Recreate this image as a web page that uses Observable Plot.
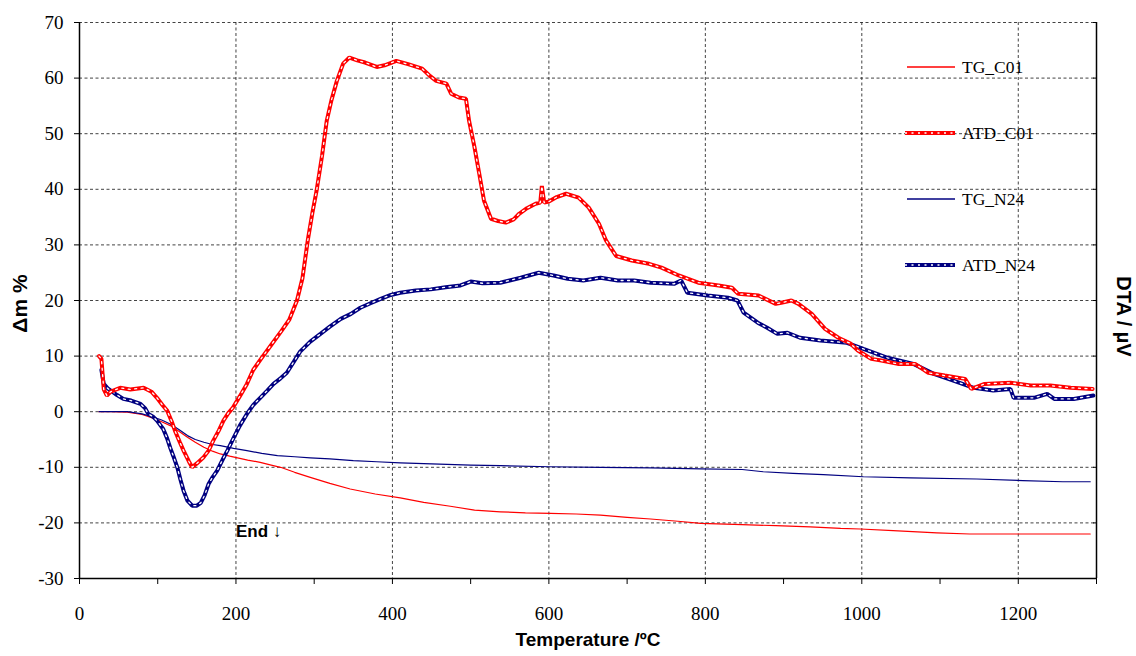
<!DOCTYPE html>
<html>
<head>
<meta charset="utf-8">
<script src="https://cdn.jsdelivr.net/npm/d3@7"></script>
<script src="https://cdn.jsdelivr.net/npm/@observablehq/plot@0.6"></script>
<style>
  html, body { margin: 0; padding: 0; background: #fff; }
  #wrap { position: relative; width: 1136px; height: 656px; }
  #chart svg text { font-family: "Liberation Serif", "Times New Roman", serif !important; fill: #000; }
  #chart svg g[aria-label="text"] text { font-family: "Liberation Sans", Arial, sans-serif !important; font-weight: bold; }
  #legend { position: absolute; left: 905px; top: 34px; font-family: "Liberation Serif", serif; font-size: 17.5px; color: #000; }
  #legend .row { display: flex; align-items: center; height: 66px; }
  #legend svg { margin-right: 5px; }
</style>
</head>
<body>
<div id="wrap"><div id="chart"></div><div id="legend"></div></div>
<script>
// ---- data (temperature °C, value) ----
const tgC01 = [[25,0],[40,0],[61,-0.1],[80,-0.5],[95,-1.2],[105,-1.8],[116,-2.5],[127,-3.5],[138,-4.6],[148,-5.5],[159,-6.4],[170,-7.1],[180,-7.6],[192,-8],[202,-8.3],[215,-8.7],[231,-9.1],[245,-9.6],[257,-10],[275,-10.9],[295,-11.8],[320,-12.9],[346,-13.9],[378,-14.8],[410,-15.5],[440,-16.3],[474,-17],[505,-17.7],[538,-18],[570,-18.2],[602,-18.3],[635,-18.4],[666,-18.6],[700,-19],[730,-19.3],[765,-19.7],[794,-20.1],[847,-20.3],[890,-20.5],[934,-20.7],[973,-21],[998,-21.1],[1040,-21.4],[1096,-21.8],[1138,-22],[1292,-22]];

const atdC01 = [[25,10],[28,9.5],[31,4],[35,2.9],[40,3.6],[52,4.3],[65,4.0],[82,4.3],[92,3.6],[99,2.5],[106,1.2],[112,0.2],[118,-1.8],[122,-3.4],[128,-5.4],[133,-7],[140,-9.0],[144,-10],[150,-9.3],[158,-8.3],[165,-7.0],[171,-5.2],[178,-3.4],[184,-1.6],[190,-0.3],[196,0.7],[205,2.8],[214,5],[222,7.5],[232,9.5],[245,12],[258,14.5],[268,16.5],[278,20],[285,24],[292,31],[298,36],[303,39.7],[310,46],[316,52.3],[322,56],[329,59.5],[337,62.6],[345,63.7],[355,63.2],[365,62.8],[380,62],[390,62.3],[405,63.1],[420,62.5],[438,61.7],[447,60.5],[456,59.5],[469,59],[475,57.2],[485,56.5],[494,56.3],[498,52.3],[505,47.5],[511,42.8],[517,38],[526,34.7],[535,34.3],[545,34],[555,34.6],[562,35.6],[572,36.6],[583,37.4],[589,37.6],[591,40.6],[594,37.6],[600,37.8],[610,38.6],[622,39.2],[638,38.5],[651,36.7],[664,33.8],[673,30.8],[686,28],[706,27.2],[728,26.6],[744,25.9],[766,24.5],[791,23.2],[817,22.7],[834,22.3],[842,21.2],[868,20.9],[890,19.4],[897,19.6],[910,20],[919,19.4],[936,17.6],[953,14.9],[970,13.3],[985,12.3],[995,11],[1012,9.5],[1025,9.2],[1046,8.6],[1068,8.6],[1085,7],[1106,6.5],[1132,5.9],[1140,4.1],[1157,5],[1190,5.2],[1216,4.7],[1241,4.7],[1267,4.3],[1295,4.1]];

const tgN24 = [[25,0],[40,0],[61,0],[80,-0.4],[95,-1],[105,-1.5],[116,-2.2],[127,-3.2],[138,-4.3],[148,-5],[159,-5.5],[170,-5.9],[180,-6.1],[197,-6.6],[214,-7],[233,-7.5],[253,-7.9],[275,-8.1],[295,-8.3],[320,-8.5],[350,-8.8],[380,-9],[410,-9.2],[450,-9.4],[500,-9.6],[538,-9.7],[600,-9.9],[666,-10],[730,-10.1],[794,-10.3],[847,-10.4],[874,-10.8],[912,-11.1],[951,-11.3],[1002,-11.7],[1062,-11.9],[1147,-12.1],[1206,-12.4],[1257,-12.6],[1292,-12.6]];

const atdN24 = [[28,7.5],[31,5],[36,4.2],[40,3.8],[48,3.0],[56,2.3],[66,2.0],[78,1.4],[84,0.6],[88,-0.4],[94,-0.9],[99,-1.6],[107,-3.1],[112,-4.8],[116,-6.5],[120,-8],[125,-10],[129,-12.2],[133,-14.2],[138,-16],[144,-16.9],[150,-16.9],[155,-16.4],[160,-15],[165,-13],[170,-11.8],[176,-10.6],[183,-8.6],[189,-7],[197,-4.7],[205,-2.5],[214,-0.4],[222,1.2],[231,2.5],[240,3.8],[248,5],[257,6],[265,7],[274,9],[282,10.8],[295,12.6],[308,14],[320,15.3],[334,16.7],[347,17.6],[359,18.7],[372,19.5],[385,20.3],[398,21],[410,21.4],[430,21.8],[449,22],[468,22.4],[487,22.7],[500,23.4],[515,23.1],[538,23.2],[564,24.1],[587,25],[606,24.5],[624,23.9],[644,23.6],[666,24.1],[688,23.6],[709,23.6],[730,23.2],[760,23],[769,23.6],[777,21.4],[803,20.9],[829,20.5],[841,20],[849,17.8],[867,16],[879,15.1],[892,14],[905,14.2],[921,13.3],[947,12.8],[981,12.4],[1002,11.3],[1033,9.7],[1066,8.6],[1092,6.8],[1117,5.6],[1143,4.3],[1168,3.8],[1190,4.1],[1194,2.5],[1220,2.5],[1237,3.2],[1246,2.3],[1271,2.3],[1296,2.9]];

const yTicks = [-30,-20,-10,0,10,20,30,40,50,60,70];
const xLabelTicks = [0,200,400,600,800,1000,1200];
const xMinorTicks = [0,100,200,300,400,500,600,700,800,900,1000,1100,1200,1300];
const xGrid = [200,400,600,800,1000,1200];
const xDomain = [0,1300];
const yDomain = [-30,70];
const endNote = [{T: 200, v: -21.6, label: "End ↓"}];
const seriesNames = ["TG_C01","ATD_C01","TG_N24","ATD_N24"];
const seriesColors = ["#ff0000","#ff0000","#000080","#000080"];
const seriesKinds = ["tg","atd","tg","atd"];
const xTitle = "Temperature /ºC";
const yTitle = "Δm %";
const y2Title = "DTA / µV";

const RED = seriesColors[0], NAVY = seriesColors[2];
const SERIF = "Liberation Serif, Times New Roman, serif";
const titleFont = {fontFamily: "Liberation Sans, Arial, sans-serif", fontWeight: "bold", fontSize: 19, fill: "#000"};
const grid = {stroke: "#222", strokeOpacity: 0.85, strokeDasharray: "3,2.5", strokeWidth: 1};
const fmt = d => String(d);

function atd(data, color) {
  return [
    Plot.line(data, {stroke: color, strokeWidth: 4, strokeLinejoin: "miter"}),
    Plot.line(data, {stroke: "white", strokeWidth: 1.3, strokeDasharray: "2,4.5"})
  ];
}

const chart = Plot.plot({
  width: 1136,
  height: 656,
  marginLeft: 79,
  marginRight: 40,
  marginTop: 22,
  marginBottom: 78,
  x: {domain: xDomain},
  y: {domain: yDomain},
  style: {fontFamily: SERIF, fontSize: "19px", color: "#000", background: "#fff"},
  marks: [
    Plot.gridY(yTicks, grid),
    Plot.gridX(xGrid, grid),
    Plot.axisY(yTicks, {tickSize: 5, tickPadding: 11, label: null, fontSize: 19, fontFamily: SERIF, tickFormat: fmt, stroke: "#000"}),
    Plot.axisY(yTicks, {anchor: "right", tickSize: 4, dx: -4, text: null, label: null}),
    Plot.axisX(xMinorTicks, {tickSize: 6, text: null, label: null}),
    Plot.axisX(xLabelTicks, {tickSize: 0, tickPadding: 28, label: null, fontSize: 19, fontFamily: SERIF, tickFormat: fmt}),
    Plot.line(tgC01, {stroke: RED, strokeWidth: 1.2}),
    Plot.line(tgN24, {stroke: NAVY, strokeWidth: 1.2}),
    ...atd(atdN24, NAVY),
    ...atd(atdC01, RED),
    Plot.ruleX([xDomain[0]], {stroke: "#000", strokeWidth: 1.5}),
    Plot.ruleX([xDomain[1]], {stroke: "#000", strokeWidth: 1.5}),
    Plot.ruleY([yDomain[0]], {stroke: "#000", strokeWidth: 1.5}),
    Plot.text(endNote, {x: "T", y: "v", text: "label", textAnchor: "start", ...titleFont, fontSize: 17}),
    Plot.text([yTitle], {frameAnchor: "left", textAnchor: "middle", dx: -59, dy: 3, rotate: -90, ...titleFont, fontSize: 21}),
    Plot.text([xTitle], {frameAnchor: "bottom", textAnchor: "middle", dy: 67, ...titleFont}),
    Plot.text([y2Title], {frameAnchor: "right", textAnchor: "middle", dx: 27, dy: 16, rotate: 90, ...titleFont, fontSize: 20})
  ]
});
document.getElementById("chart").appendChild(chart);

// legend (inside plot area, top right)
const legend = document.getElementById("legend");
seriesNames.forEach((name, i) => {
  const row = document.createElement("div");
  row.className = "row";
  const c = seriesColors[i];
  const sample = seriesKinds[i] === "atd"
    ? `<line x1="0" y1="6" x2="50" y2="6" stroke="${c}" stroke-width="4"/><line x1="0" y1="6" x2="50" y2="6" stroke="white" stroke-width="1.3" stroke-dasharray="2,4.5"/>`
    : `<line x1="2" y1="6" x2="50" y2="6" stroke="${c}" stroke-width="1.3"/>`;
  row.innerHTML = `<svg width="52" height="12">${sample}</svg><span>${name}</span>`;
  legend.appendChild(row);
});
</script>
</body>
</html>
